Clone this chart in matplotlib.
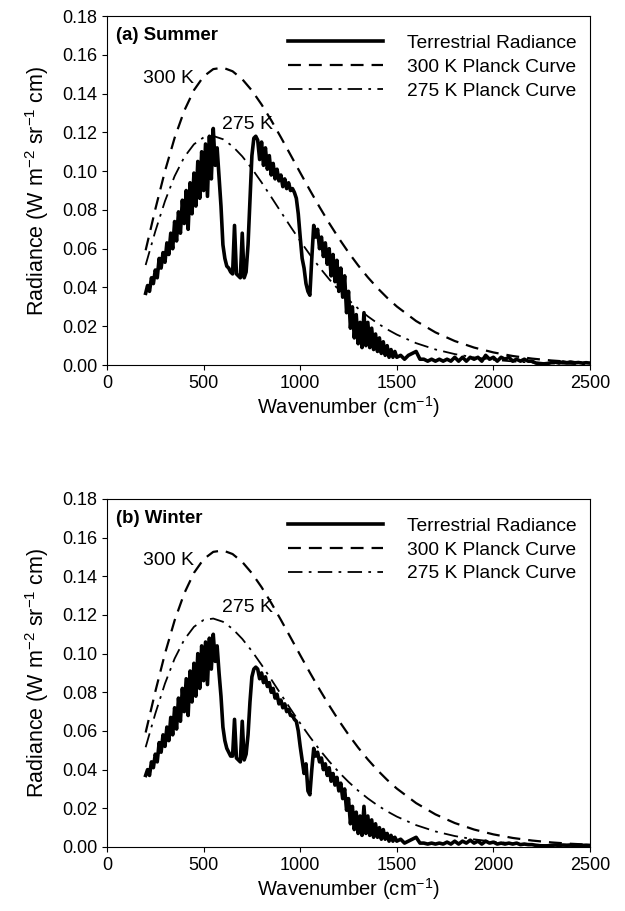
import numpy as np
import matplotlib
matplotlib.use("Agg")
import matplotlib.pyplot as plt

plt.rcParams["font.family"] = ["Liberation Sans", "DejaVu Sans"]
plt.rcParams["mathtext.fontset"] = "custom"
plt.rcParams["mathtext.rm"] = "Liberation Sans"
plt.rcParams["mathtext.default"] = "regular"

# ====== 数据 ======
# Planck 曲线 (W m-2 sr-1 cm)
planck_nu = [200, 250, 300, 350, 400, 450, 500, 550, 600, 650, 700, 750, 800, 850,
             900, 950, 1000, 1050, 1100, 1150, 1200, 1250, 1300, 1350, 1400, 1450,
             1500, 1600, 1700, 1800, 1900, 2000, 2100, 2200, 2300, 2400, 2500]
planck_300 = [0.05919, 0.08032, 0.10000, 0.11717, 0.13119, 0.14176, 0.14886, 0.15263,
              0.15337, 0.15151, 0.14743, 0.14158, 0.13438, 0.12623, 0.11746, 0.10838,
              0.09923, 0.09022, 0.08150, 0.07319, 0.06537, 0.05809, 0.05139, 0.04526,
              0.03970, 0.03470, 0.03021, 0.02269, 0.01685, 0.01238, 0.009011, 0.006505,
              0.004662, 0.003318, 0.002347, 0.001651, 0.001155]
planck_275 = [0.05158, 0.06895, 0.08452, 0.09743, 0.10724, 0.11386, 0.11740, 0.11814,
              0.11648, 0.11283, 0.10763, 0.10130, 0.09420, 0.08667, 0.07899, 0.07137,
              0.06397, 0.05694, 0.05035, 0.04426, 0.03869, 0.03365, 0.02913, 0.02511,
              0.02155, 0.01843, 0.01570, 0.01129, 0.008027, 0.005646, 0.003935, 0.002720,
              0.001866, 0.001271, 0.000861, 0.000580, 0.000388]

# 地表辐射光谱：200-1500 每 10 cm-1，1520-2500 每 20 cm-1
spec_nu = list(range(200, 1501, 10)) + list(range(1520, 2501, 20))

summer = [
    0.037, 0.041, 0.038, 0.045, 0.042, 0.049, 0.045, 0.055, 0.050, 0.058,
    0.053, 0.063, 0.057, 0.068, 0.060, 0.074, 0.064, 0.079, 0.068, 0.085,
    0.073, 0.090, 0.070, 0.094, 0.078, 0.099, 0.082, 0.105, 0.086, 0.110,
    0.090, 0.114, 0.087, 0.118, 0.096, 0.122, 0.103, 0.112, 0.097, 0.082,
    0.062, 0.055, 0.051, 0.050, 0.048, 0.047, 0.072, 0.047, 0.046, 0.045,
    0.068, 0.045, 0.048, 0.062, 0.085, 0.108, 0.117, 0.118, 0.116, 0.106,
    0.115, 0.103, 0.112, 0.101, 0.108, 0.098, 0.104, 0.096, 0.101, 0.095,
    0.098, 0.092, 0.096, 0.091, 0.094, 0.090, 0.091, 0.089, 0.086, 0.078,
    0.066, 0.055, 0.050, 0.042, 0.038, 0.036, 0.055, 0.072, 0.066, 0.070,
    0.060, 0.066, 0.056, 0.063, 0.052, 0.060, 0.046, 0.057, 0.043, 0.054,
    0.038, 0.050, 0.035, 0.046, 0.027, 0.038, 0.019, 0.030, 0.014, 0.026,
    0.011, 0.022, 0.009, 0.027, 0.010, 0.022, 0.009, 0.019, 0.008, 0.016,
    0.007, 0.014, 0.006, 0.012, 0.005, 0.010, 0.004, 0.008, 0.004, 0.007,
    0.004,
    0.005, 0.003, 0.005, 0.006, 0.007, 0.003, 0.003, 0.002, 0.003, 0.002,
    0.003, 0.002, 0.003, 0.002, 0.004, 0.002, 0.004, 0.002, 0.004, 0.003,
    0.004, 0.002, 0.005, 0.003, 0.004, 0.002, 0.004, 0.003, 0.004, 0.002,
    0.003, 0.002, 0.003, 0.002, 0.002, 0.001, 0.0008, 0.0006, 0.0008, 0.0012,
    0.0015, 0.0010, 0.0016, 0.0012, 0.0015, 0.0011, 0.0013, 0.0010, 0.0012, 0.0010,
]

winter = [
    0.037, 0.040, 0.037, 0.044, 0.041, 0.048, 0.044, 0.054, 0.049, 0.058,
    0.052, 0.062, 0.055, 0.067, 0.058, 0.072, 0.061, 0.077, 0.065, 0.082,
    0.070, 0.087, 0.068, 0.091, 0.075, 0.095, 0.078, 0.100, 0.082, 0.104,
    0.086, 0.106, 0.084, 0.108, 0.092, 0.110, 0.096, 0.104, 0.090, 0.078,
    0.062, 0.055, 0.051, 0.049, 0.047, 0.047, 0.066, 0.046, 0.045, 0.044,
    0.065, 0.045, 0.048, 0.058, 0.075, 0.088, 0.092, 0.093, 0.092, 0.087,
    0.090, 0.085, 0.088, 0.083, 0.085, 0.080, 0.082, 0.077, 0.079, 0.074,
    0.076, 0.072, 0.074, 0.070, 0.071, 0.068, 0.068, 0.066, 0.065, 0.060,
    0.052, 0.045, 0.038, 0.043, 0.029, 0.027, 0.040, 0.051, 0.047, 0.049,
    0.044, 0.046, 0.040, 0.043, 0.037, 0.041, 0.034, 0.038, 0.032, 0.036,
    0.029, 0.033, 0.025, 0.030, 0.019, 0.025, 0.012, 0.021, 0.009, 0.018,
    0.007, 0.016, 0.006, 0.021, 0.007, 0.016, 0.006, 0.014, 0.005, 0.012,
    0.005, 0.010, 0.004, 0.009, 0.004, 0.007, 0.003, 0.006, 0.003, 0.005,
    0.003,
    0.004, 0.002, 0.003, 0.004, 0.005, 0.002, 0.002, 0.0015, 0.002, 0.0015,
    0.002, 0.0015, 0.0025, 0.0015, 0.003, 0.0015, 0.003, 0.002, 0.0035, 0.002,
    0.003, 0.0015, 0.003, 0.002, 0.0025, 0.0015, 0.002, 0.0015, 0.002, 0.0015,
    0.002, 0.0012, 0.0015, 0.0012, 0.0012, 0.0008, 0.0006, 0.0005, 0.0006, 0.0008,
    0.0010, 0.0008, 0.0010, 0.0009, 0.0010, 0.0008, 0.0009, 0.0008, 0.0009, 0.0008,
]

panels = [("(a) Summer", summer), ("(b) Winter", winter)]
ylabel = r"Radiance (W m$^{-2}$ sr$^{-1}$ cm)"
xlabel = r"Wavenumber (cm$^{-1}$)"

fig = plt.figure(figsize=(6.25, 9.11), dpi=100)
rects = [[0.1712, 0.5993, 0.7728, 0.3831], [0.1712, 0.0703, 0.7728, 0.3820]]

for rect, (title, spec) in zip(rects, panels):
    ax = fig.add_axes(rect)
    ax.plot(spec_nu, spec, color="black", lw=2.6, label="Terrestrial Radiance", zorder=3)
    ax.plot(planck_nu, planck_300, color="black", lw=1.6, dashes=(5.8, 3.6),
            label="300 K Planck Curve")
    ax.plot(planck_nu, planck_275, color="black", lw=1.3, dashes=(8, 3.5, 1.5, 3.5),
            label="275 K Planck Curve")

    ax.set_xlim(0, 2500)
    ax.set_ylim(0, 0.18)
    ax.set_xticks(range(0, 2501, 500))
    ax.set_yticks(np.arange(0, 0.181, 0.02))
    ax.yaxis.set_major_formatter(matplotlib.ticker.FormatStrFormatter("%.2f"))
    ax.tick_params(direction="out", length=3.5, width=0.8, labelsize=13, pad=3.5)
    for s in ax.spines.values():
        s.set_linewidth(0.8)

    ax.set_xlabel(xlabel, fontsize=14.5, labelpad=2)
    ax.set_ylabel(ylabel, fontsize=15.5, labelpad=8)

    ax.text(0.018, 0.945, title, transform=ax.transAxes, fontsize=13.4,
            fontweight="bold", va="center", ha="left")
    ax.text(185, 0.148, "300 K", fontsize=14, va="center", ha="left")
    ax.text(595, 0.124, "275 K", fontsize=14, va="center", ha="left")

    ax.legend(loc="upper left", bbox_to_anchor=(0.347, 0.985), frameon=False,
              fontsize=13.8, handlelength=4.95, handletextpad=1.25,
              labelspacing=0.33, borderpad=0.2)

fig.savefig("out.png", dpi=100)
